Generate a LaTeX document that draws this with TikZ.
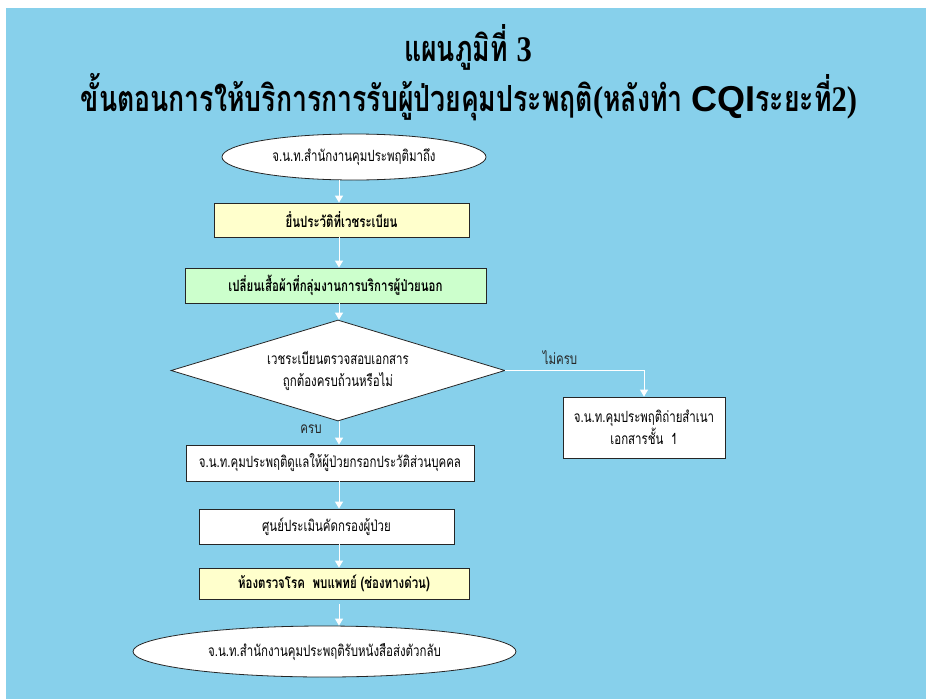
\documentclass[tikz,border=0pt]{standalone}
\usepackage{fontspec}
\usetikzlibrary{shapes.geometric,arrows.meta}
\newfontfamily\thai[Script=Thai,FakeStretch=0.74]{Loma}
\newfontfamily\arialf{Liberation Sans}
\newfontfamily\timesf[FakeStretch=0.85]{Liberation Serif}
\newcommand{\tdig}[1]{{\timesf\bfseries #1}}
\definecolor{bgblue}{RGB}{135,208,235}
\definecolor{lyellow}{RGB}{255,255,204}
\definecolor{lgreen}{RGB}{204,255,204}
\begin{document}
\begin{tikzpicture}[x=1pt,y=-1pt,
  bodyfont/.style={font=\thai\fontsize{15.5}{22}\selectfont},
  boldfont/.style={font=\thai\bfseries\fontsize{15.5}{22}\selectfont},
  box/.style={draw=black!85,line width=0.8pt,rectangle,inner sep=0pt,align=center,fill=white,bodyfont},
  term/.style={draw=black!85,line width=0.8pt,ellipse,inner sep=0pt,align=center,fill=white,bodyfont},
  decision/.style={draw=black!85,line width=0.8pt,diamond,shape aspect=3.3,inner sep=0pt,align=center,fill=white,bodyfont},
  arr/.style={draw=white,line width=1pt,-{Triangle[width=8pt,length=7pt]}},
  lbl/.style={inner sep=0pt,bodyfont,text=black!85}
]
\useasboundingbox (0,0) rectangle (926,699);
\fill[bgblue] (6,8) rectangle (926,699);

\node[inner sep=0pt,font=\thai\bfseries\fontsize{36}{40}\selectfont] (t1) at (468,47) {แผนภูมิที่ \tdig{3}};
\node[inner sep=0pt,font=\thai\bfseries\fontsize{36}{40}\selectfont] (t2) at (469,97)
  {ขั้นตอนการให้บริการการรับผู้ป่วยคุมประพฤติ\tdig{(}หลังทำ {\arialf\bfseries\fontsize{36}{36}\selectfont CQI}ระยะที่\tdig{2)}};

\coordinate (ax) at (339,0);

\node[term,minimum width=264pt,minimum height=46pt] (n1) at (354,157) {จ.น.ท.สำนักงานคุมประพฤติมาถึง};
\node[box,fill=lyellow,boldfont,minimum width=255pt,minimum height=34pt] (n2) at (341.5,220) {ยื่นประวัติที่เวชระเบียน};
\node[box,fill=lgreen,boldfont,minimum width=301pt,minimum height=35pt] (n3) at (335.5,285.5) {เปลี่ยนเสื้อผ้าที่กลุ่มงานการบริการผู้ป่วยนอก};
\node[decision,minimum width=334pt,minimum height=101pt] (d) at (338,370.5) {เวชระเบียนตรวจสอบเอกสาร\\ถูกต้องครบถ้วนหรือไม่};
\node[box,minimum width=162pt,minimum height=61pt] (r) at (644,427.5) {จ.น.ท.คุมประพฤติถ่ายสำเนา\\เอกสารชั้น~~1};
\node[box,minimum width=288pt,minimum height=36pt] (n6) at (330,463) {จ.น.ท.คุมประพฤติดูแลให้ผู้ป่วยกรอกประวัติส่วนบุคคล};
\node[box,minimum width=255pt,minimum height=35pt] (n7) at (326.5,526.5) {ศูนย์ประเมินคัดกรองผู้ป่วย};
\node[box,fill=lyellow,boldfont,minimum width=270pt,minimum height=31pt] (n8) at (334,583.5) {ห้องตรวจโรค~~พบแพทย์ (ช่องทางด่วน)};
\node[term,minimum width=383pt,minimum height=51pt] (n9) at (324.5,651.5) {จ.น.ท.สำนักงานคุมประพฤติรับหนังสือส่งตัวกลับ};

\draw[arr] (n1.south -| ax) -- (n2.north -| ax);
\draw[arr] (n2.south -| ax) -- (n3.north -| ax);
\draw[arr] (n3.south -| ax) -- (d.north -| ax);
\draw[arr] (d.south -| ax) -- (n6.north -| ax);
\draw[arr] (n6.south -| ax) -- (n7.north -| ax);
\draw[arr] (n7.south -| ax) -- (n8.north -| ax);
\draw[arr,shorten <=5pt] (n8.south -| ax) -- (n9.north -| ax);
\draw[arr] (d.east) -| (r.north);

\node[lbl] (l1) at (560,358) {ไม่ครบ};
\node[lbl] (l2) at (311,429) {ครบ};
\end{tikzpicture}
\end{document}
